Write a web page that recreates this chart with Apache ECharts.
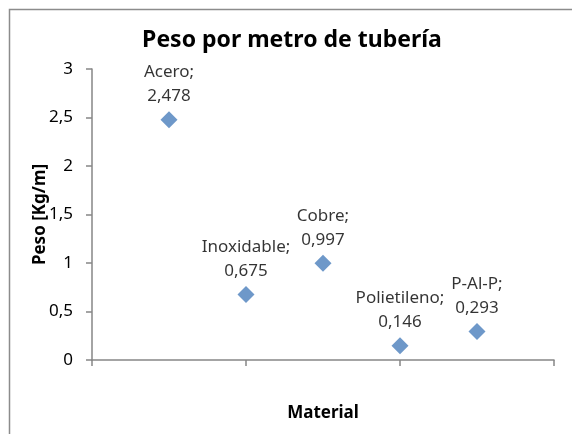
<!DOCTYPE html>
<html>
<head>
<meta charset="utf-8">
<script src="https://cdn.jsdelivr.net/npm/echarts@6/dist/echarts.min.js"></script>
<style>
  html, body { margin: 0; padding: 0; background: #fff; }
  #chart { width: 572px; height: 434px; }
</style>
</head>
<body>
<div id="chart"></div>
<script>
// datos
var materiales = ["Acero", "Inoxidable", "Cobre", "Polietileno", "P-Al-P"];
var posX = [1, 2, 3, 4, 5];
var pesos = [2.478, 0.675, 0.997, 0.146, 0.293];
var yTicks = [0, 0.5, 1, 1.5, 2, 2.5, 3];

var fuente = "Noto Sans";
function coma(v) {
  return String(v).replace(".", ",");
}

var chart = echarts.init(document.getElementById("chart"));
chart.setOption({
  animation: false,
  textStyle: { fontFamily: fuente },
  title: {
    text: "Peso por metro de tubería",
    left: 287,
    textAlign: "center",
    top: 24,
    textStyle: { fontSize: 23, fontWeight: "bold", color: "#000", fontFamily: fuente }
  },
  graphic: [{
    type: "rect",
    shape: { x: 9.5, y: 9.5, width: 700, height: 600 },
    style: { fill: null, stroke: "#8c8c8c", lineWidth: 1.5 },
    silent: true
  }],
  grid: { left: 92, right: 18, top: 69, bottom: 74 },
  xAxis: {
    type: "value",
    min: 0,
    max: 6,
    interval: 2,
    name: "Material",
    nameLocation: "middle",
    nameGap: 45,
    nameTextStyle: { fontSize: 17, fontWeight: "bold", color: "#000" },
    axisLine: { lineStyle: { color: "#868686", width: 1.5 } },
    axisTick: { show: true, length: 6, lineStyle: { color: "#868686", width: 1.5 } },
    axisLabel: { show: false },
    splitLine: { show: false }
  },
  yAxis: {
    type: "value",
    min: yTicks[0],
    max: yTicks[yTicks.length - 1],
    interval: 0.5,
    name: "Peso [Kg/m]",
    nameLocation: "middle",
    nameGap: 43,
    nameMoveOverlap: false,
    nameTextStyle: { fontSize: 17, fontWeight: "bold", color: "#000" },
    axisLine: { show: true, lineStyle: { color: "#868686", width: 1.5 } },
    axisTick: { show: true, length: 6, lineStyle: { color: "#868686", width: 1.5 } },
    axisLabel: { fontSize: 17, color: "#000", margin: 19, formatter: coma },
    splitLine: { show: false }
  },
  series: [{
    type: "scatter",
    symbol: "diamond",
    symbolSize: 17,
    itemStyle: { color: "#4a7ebb" },
    data: posX.map(function (x, i) { return [x, pesos[i]]; }),
    label: {
      show: true,
      position: "top",
      distance: 3,
      fontSize: 17,
      lineHeight: 24,
      color: "#000",
      align: "center",
      formatter: function (p) {
        return materiales[p.dataIndex] + ";\n" + coma(p.value[1]);
      }
    }
  }]
});
</script>
</body>
</html>
